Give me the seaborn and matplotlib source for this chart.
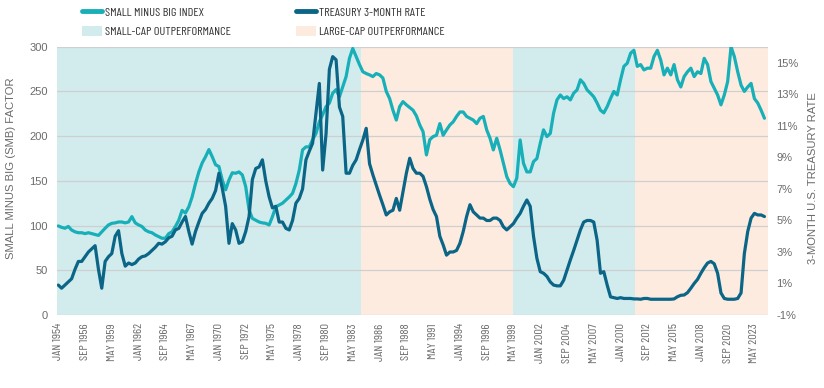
import matplotlib
matplotlib.use('Agg')
import matplotlib.pyplot as plt
import seaborn as sns
import pandas as pd
from matplotlib.lines import Line2D
from matplotlib.patches import Patch

# valores, um ponto a cada 4 meses (jan/mai/set), jan 1954 -> mai 2024
smb_index = [99.6, 98, 97, 99, 95, 93, 92, 92, 91, 92, 91, 90, 89, 93, 97, 100.7, 102.5, 103, 104, 104,
             103, 104, 110, 103, 100.7, 99, 95, 93, 92, 89.5, 87.6, 85.8, 85.8, 91, 93, 99, 106, 117, 114, 121,
             132, 147, 160, 170, 177, 185, 177, 168, 166, 151, 140, 151, 159,
             158.5, 160, 156.6, 143.5, 117.4, 108, 106, 104, 103, 102.5, 100.7, 110, 121, 123, 125, 128.6, 132, 136,
             147, 162, 184.6, 188, 188, 196, 203, 216, 224, 233, 237, 248, 252, 244, 255, 266.6, 287, 298,
             289, 280, 272, 270, 268.5, 266.6, 270, 268.5, 265, 250, 242, 229, 218, 233, 238.6, 235,
             232, 229, 222.6, 212.5, 205, 179, 196, 199.5, 201, 214, 201, 207, 212.5, 216, 222, 227, 227, 222,
             220, 218, 214, 220, 222, 207, 197.6, 184.6, 197.6, 184.6, 169.7, 154.7, 147, 143.5, 153, 195.7,
             169.7, 160, 160, 171.5, 175, 192, 207, 199.5, 203, 225.6, 240.5, 246, 242, 244, 240.5, 248, 251.7, 263, 259,
             251.7, 248, 244, 237, 229, 226, 233, 242, 250, 246, 263, 278, 281.5, 292.7, 296, 278, 280, 274,
             276, 276, 289, 296, 285, 268.5, 276, 268.5, 280, 263, 255, 266.6, 272, 276, 266.6, 272, 270, 287,
             280, 261, 253.5, 246, 235, 246, 261, 300, 289, 272, 257, 250, 255, 259, 242, 237, 229, 220]

treasury_rate = [0.9, 0.7, 0.9, 1.1, 1.3, 1.9, 2.4, 2.4, 2.7, 3.0, 3.2, 3.4, 1.9, 0.7, 2.4, 2.7, 2.9, 4.0, 4.35, 2.9,
                 2.1, 2.3, 2.2, 2.3, 2.55, 2.7, 2.75, 2.9, 3.1, 3.3, 3.55, 3.5, 3.65, 3.9, 4.0, 4.4, 4.5, 4.9, 5.25, 4.3,
                 3.5, 4.3, 4.9, 5.45, 5.7, 6.1, 6.4, 6.9, 8.0, 7.05, 5.9, 3.55, 4.8,
                 4.4, 3.55, 3.65, 4.3, 5.25, 7.6, 8.3, 8.4, 8.85, 7.5, 6.5, 5.8, 5.9, 4.9, 4.9, 4.5, 4.4, 5.0,
                 6.1, 6.4, 7.0, 8.85, 9.4, 9.9, 11.8, 13.7, 8.2, 10.5, 14.6, 15.4, 15.2, 12.2, 11.6, 8.0, 8.0, 8.5,
                 8.85, 9.5, 10.1, 10.85, 8.6, 7.9, 7.25, 6.6, 6.0, 5.35, 5.55, 5.65, 6.4, 5.65, 6.8, 8.0,
                 8.95, 8.3, 8.0, 8.0, 7.8, 7.15, 6.35, 5.7, 5.25, 4.0, 3.45, 2.8, 3.0, 3.0, 3.1, 3.55, 4.3, 5.25,
                 6.0, 5.55, 5.35, 5.15, 5.15, 5.0, 5.0, 5.15, 5.15, 5.0, 4.6, 4.4, 4.6, 4.8, 5.15, 5.45,
                 5.9, 6.3, 5.9, 4.0, 2.6, 1.75, 1.65, 1.45, 1.1, 0.9, 0.85, 0.85, 1.2, 1.85, 2.5, 3.1, 3.75, 4.4, 4.9,
                 5.0, 5.0, 4.9, 3.75, 1.65, 1.75, 0.9, 0.15, 0.1, 0.05, 0.1, 0.05, 0.05, 0.05, 0.02, 0.02, 0.0, 0.05,
                 0.05, 0.0, 0.0, 0.0, 0.0, 0.0, 0.0, 0.0, 0.02, 0.16, 0.25, 0.27, 0.42, 0.7, 1.0, 1.26, 1.65, 2.0,
                 2.3, 2.4, 2.25, 1.65, 0.4, 0.05, 0.0, 0.0, 0.0, 0.05, 0.4, 2.9, 4.3, 5.15, 5.45, 5.35, 5.35, 5.25]

# periodos de desempenho (inicio de cada periodo)
regime_starts = ['1953-11-15', '1984-02-15', '1999-04-01', '2011-06-10']
regime_types = ['small', 'large', 'small', 'large']
period_end = '2024-08-20'

tick_dates = pd.date_range('1954-01-01', periods=27, freq='32MS')
tick_labels = [d.strftime('%b %Y').upper() for d in tick_dates]
smb_ticks = [0, 50, 100, 150, 200, 250, 300]
rate_ticks = [-1, 1, 3, 5, 7, 9, 11, 13, 15]

teal = '#17AFB8'
navy = '#0B6587'
cor_small = '#D2ECEE'
cor_large = '#FDEBDF'
cinza = '#6b6b6b'

sns.set_style('white')
plt.rcParams['font.family'] = ['Liberation Sans', 'DejaVu Sans']
estreita = ['Barlow Condensed', 'Liberation Sans']

df = pd.DataFrame({'data': pd.date_range('1954-01-01', periods=len(smb_index), freq='4MS'),
                   'smb': smb_index, 'taxa': treasury_rate})

fig = plt.figure(figsize=(8.24, 3.88), dpi=100)
ax = fig.add_axes([57 / 824, 73 / 388, 710.5 / 824, 268.3 / 388])

fins = regime_starts[1:] + [period_end]
for ini, fim, tipo in zip(regime_starts, fins, regime_types):
    ax.axvspan(pd.Timestamp(ini), pd.Timestamp(fim), color=cor_small if tipo == 'small' else cor_large,
               lw=0, zorder=0.1)

sns.lineplot(data=df, x='data', y='smb', ax=ax, color=teal, lw=2.3, zorder=2)
ax2 = ax.twinx()
sns.lineplot(data=df, x='data', y='taxa', ax=ax2, color=navy, lw=2.3, zorder=3)

ax.set_xlim(pd.Timestamp(regime_starts[0]), pd.Timestamp(period_end))
ax.set_ylim(0, 300)
ax2.set_ylim(-1, 16.03)

ax.set_yticks(smb_ticks)
ax.set_yticklabels([str(v) for v in smb_ticks])
ax2.set_yticks(rate_ticks)
ax2.set_yticklabels([f'{v}%' for v in rate_ticks])
ax.set_xticks(tick_dates)
ax.set_xticklabels(tick_labels, rotation=90, family=estreita, fontsize=8.9, color=cinza)

ax.set_axisbelow('line')
ax.yaxis.grid(True, color='#cfcfcf', lw=0.9)
ax.xaxis.grid(False)
for a in (ax, ax2):
    for s in a.spines.values():
        s.set_visible(False)

ax.tick_params(axis='y', length=0, pad=6.5, labelsize=8, labelcolor=cinza)
ax2.tick_params(axis='y', length=0, pad=6.5, labelsize=8, labelcolor=cinza)
ax.tick_params(axis='x', length=4, width=0.8, color='#b0b0b0', pad=2)

ax.set_xlabel('')
ax.set_ylabel('')
ax2.set_ylabel('')
fig.text(11 / 824, 1 - 168 / 388, 'SMALL MINUS BIG (SMB) FACTOR', rotation=90, ha='center', va='center',
         fontsize=8.1, color=cinza)
fig.text(813 / 824, 1 - 178 / 388, '3-MONTH U.S. TREASURY RATE', rotation=90, ha='center', va='center',
         fontsize=8.1, color=cinza)

# legenda em duas colunas separadas
leg_kw = dict(loc='upper left', frameon=False, borderpad=0, borderaxespad=0, handlelength=1.6,
              handleheight=0.85, handletextpad=0.28, labelspacing=0.66,
              prop={'family': estreita, 'size': 8.9}, labelcolor='#333333')
leg1 = fig.legend([Line2D([0], [0], color=teal, lw=3.5, solid_capstyle='round'),
                   Patch(facecolor=cor_small, edgecolor='none')],
                  ['SMALL MINUS BIG INDEX', 'SMALL-CAP OUTPERFORMANCE'],
                  bbox_to_anchor=(82 / 824, 1 - 6.5 / 388), **leg_kw)
leg2 = fig.legend([Line2D([0], [0], color=navy, lw=3.5, solid_capstyle='round'),
                   Patch(facecolor=cor_large, edgecolor='none')],
                  ['TREASURY 3-MONTH RATE', 'LARGE-CAP OUTPERFORMANCE'],
                  bbox_to_anchor=(296 / 824, 1 - 6.5 / 388), **leg_kw)

fig.savefig('out.png', dpi=100)
